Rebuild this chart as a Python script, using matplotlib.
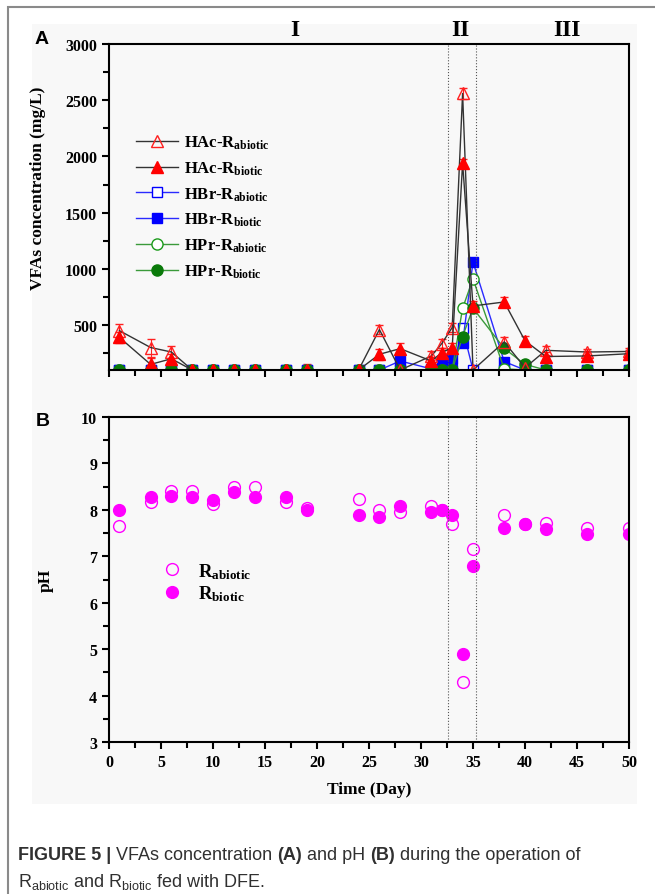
import numpy as np
import matplotlib
matplotlib.use('Agg')
import matplotlib.pyplot as plt
from matplotlib.patches import Rectangle
from matplotlib.ticker import MultipleLocator

plt.rcParams['font.family'] = 'Liberation Serif'
plt.rcParams['font.weight'] = 'bold'

# ---- data ----
days = [1, 4, 6, 8, 10, 12, 14, 17, 19, 24, 26, 28, 31, 32, 33, 34, 35, 38, 40, 42, 46, 50]

# VFAs (mg/L); 100 = lower edge of the axis
hac_abiotic = [450, 300, 260, 100, 100, 100, 100, 100, 100, 100, 460, 100, 225, 335, 478, 2560, 100, 350, 120, 275, 260, 265]
hac_biotic = [390, 150, 200, 100, 100, 100, 100, 100, 100, 100, 240, 290, 180, 255, 300, 1940, 670, 705, 360, 220, 225, 245]
hbr_abiotic = [100, 100, 100, 100, 100, 100, 100, 100, 100, 100, 100, 100, 100, 100, 100, 470, 100, 100, 100, 100, 100, 100]
hbr_biotic = [100, 100, 100, 100, 100, 100, 100, 100, 100, 100, 100, 180, 110, 160, 195, 340, 1060, 175, 100, 100, 100, 100]
hpr_abiotic = [100, 100, 100, 100, 100, 100, 100, 100, 100, 100, 100, 100, 100, 100, 100, 650, 910, 110, 100, 100, 100, 100]
hpr_biotic = [100, 100, 100, 100, 100, 100, 100, 100, 100, 100, 100, 100, 100, 100, 100, 398, 650, 292, 150, 100, 100, 100]

hac_abiotic_err = [60, 80, 50, 40, 40, 40, 40, 40, 50, 30, 40, 30, 40, 40, 40, 50, 30, 40, 30, 40, 30, 30]
hac_biotic_err = [50, 60, 40, 30, 30, 30, 30, 30, 30, 30, 50, 50, 40, 40, 40, 40, 40, 40, 40, 40, 40, 30]

# pH
ph_abiotic = [7.65, 8.16, 8.40, 8.40, 8.13, 8.50, 8.50, 8.16, 8.05, 8.23, 8.00, 7.95, 8.08, 8.00, 7.70, 4.29, 7.16, 7.89, 7.70, 7.72, 7.60, 7.60]
ph_biotic = [8.00, 8.27, 8.29, 8.28, 8.22, 8.39, 8.27, 8.28, 8.00, 7.89, 7.84, 8.08, 7.96, 8.00, 7.89, 4.90, 6.80, 7.62, 7.69, 7.59, 7.49, 7.49]

phase_bounds = [32.6, 35.3]
phase_labels = ['I', 'II', 'III']
phase_label_x = [17.9, 33.8, 44.0]


def px(x, y, w, h):
    """pixel box (top-left origin) -> figure fraction rect"""
    W, H = 655.0, 895.0
    return [x / W, 1 - (y + h) / H, w / W, h / H]


def style_axes(ax):
    for s in ax.spines.values():
        s.set_linewidth(1.5)
    ax.tick_params(which='both', direction='out', width=1.5, labelsize=11.5)
    ax.tick_params(which='major', length=5)
    ax.tick_params(which='minor', length=4)
    ax.set_facecolor('#f8f8f8')


fig = plt.figure(figsize=(6.55, 8.95), dpi=100)

# outer frame and grey panel (behind the axes)
fig.patches.append(Rectangle((8 / 655, -0.1), 1.2, (1 - 8 / 895) + 0.1, transform=fig.transFigure,
                             fill=False, ec='#8a8a8a', lw=1.5, zorder=-2))
fig.patches.append(Rectangle(px(32, 25, 605, 780)[:2], 605 / 655, 780 / 895, transform=fig.transFigure,
                             fc='#f8f8f8', ec='none', zorder=-1))

# ---------------- panel A ----------------
ax1 = fig.add_axes(px(109, 45, 520, 326))
style_axes(ax1)
lc_k, lc_b, lc_g = '#333333', '#2a2aff', '#3a9a3a'
h1 = ax1.errorbar(days, hac_abiotic, yerr=hac_abiotic_err, color=lc_k, lw=1, marker='^', ms=9, mfc='none',
                  mec='#ff2020', mew=1, ecolor='#ff2020', elinewidth=0.8, capsize=3)
h2 = ax1.errorbar(days, hac_biotic, yerr=hac_biotic_err, color=lc_k, lw=1, marker='^', ms=9, mfc='#ff0000',
                  mec='#ff0000', ecolor='#ff2020', elinewidth=0.8, capsize=3)
h3, = ax1.plot(days, hbr_abiotic, color=lc_b, lw=1, marker='s', ms=6.5, mfc='white', mec='#0000ff', mew=1)
h4, = ax1.plot(days, hbr_biotic, color=lc_b, lw=1, marker='s', ms=6.5, mfc='#0000ff', mec='#0000ff')
h5, = ax1.plot(days, hpr_abiotic, color=lc_g, lw=1, marker='o', ms=8, mfc='white', mec='#1a9a1a', mew=1)
h6, = ax1.plot(days, hpr_biotic, color=lc_g, lw=1, marker='o', ms=8, mfc='#0a7a0a', mec='#0a7a0a')
ax1.set_xlim(0, 50)
ax1.set_ylim(100, 3000)
ax1.xaxis.set_major_locator(MultipleLocator(5))
ax1.xaxis.set_minor_locator(MultipleLocator(2.5))
ax1.yaxis.set_major_locator(MultipleLocator(500))
ax1.yaxis.set_minor_locator(MultipleLocator(250))
ax1.tick_params(axis='x', labelbottom=False)
ax1.set_ylabel('VFAs concentration (mg/L)', fontsize=12.5, fontweight='bold')
ax1.yaxis.set_label_coords(-0.122, 0.56)
for b in phase_bounds:
    ax1.axvline(b, color='#555555', lw=0.8, ls=':')
for lab, xl in zip(phase_labels, phase_label_x):
    ax1.text(xl, 1.045, lab, transform=ax1.get_xaxis_transform(), ha='center', va='center',
             fontsize=17, fontweight='bold')
leg_labels = [r'HAc-R$\mathregular{_{abiotic}}$', r'HAc-R$\mathregular{_{biotic}}$',
              r'HBr-R$\mathregular{_{abiotic}}$', r'HBr-R$\mathregular{_{biotic}}$',
              r'HPr-R$\mathregular{_{abiotic}}$', r'HPr-R$\mathregular{_{biotic}}$']
leg = ax1.legend([h1[0], h2[0], h3, h4, h5, h6], leg_labels, loc='upper left', bbox_to_anchor=(0.04, 0.745),
                 frameon=False, fontsize=12, handlelength=2.5, labelspacing=0.5, handletextpad=0.35,
                 borderaxespad=0)
for t in leg.get_texts():
    t.set_fontweight('bold')

# ---------------- panel B ----------------
ax2 = fig.add_axes(px(109, 418, 520, 325))
style_axes(ax2)
p1, = ax2.plot(days, ph_abiotic, ls='none', marker='o', ms=8.5, mfc='none', mec='#ff00ff', mew=1)
p2, = ax2.plot(days, ph_biotic, ls='none', marker='o', ms=8.5, mfc='#ff00ff', mec='#ff00ff')
ax2.set_xlim(0, 50)
ax2.set_ylim(3, 10)
ax2.xaxis.set_major_locator(MultipleLocator(5))
ax2.xaxis.set_minor_locator(MultipleLocator(2.5))
ax2.yaxis.set_major_locator(MultipleLocator(1))
ax2.yaxis.set_minor_locator(MultipleLocator(0.5))
ax2.set_xlabel('Time (Day)', fontsize=12.5, fontweight='bold', labelpad=8)
ax2.set_ylabel('pH', fontsize=12.5, fontweight='bold', labelpad=20)
for b in phase_bounds:
    ax2.axvline(b, color='#555555', lw=0.8, ls=':')
leg2 = ax2.legend([p1, p2], [r'R$\mathregular{_{abiotic}}$', r'R$\mathregular{_{biotic}}$'],
                  loc='upper left', bbox_to_anchor=(0.085, 0.58), frameon=False, fontsize=13.5,
                  handlelength=1.2, labelspacing=0.15, handletextpad=0.8, borderaxespad=0)
for t in leg2.get_texts():
    t.set_fontweight('bold')

# panel letters
fig.text(42 / 655, 1 - 40 / 895, 'A', fontsize=14, fontweight='bold', family='Liberation Sans',
         ha='center', va='center')
fig.text(43 / 655, 1 - 422 / 895, 'B', fontsize=14, fontweight='bold', family='Liberation Sans',
         ha='center', va='center')

# ---------------- caption ----------------
fig.canvas.draw()
renderer = fig.canvas.get_renderer()


def caption_line(pieces, x0, y):
    x = x0
    for txt, wt in pieces:
        t = fig.text(x, y, txt, fontsize=13, fontweight=wt, family='Liberation Sans',
                     color='#303030', ha='left', va='baseline')
        bb = t.get_window_extent(renderer)
        x += bb.width / fig.bbox.width


caption_line([('FIGURE 5 | ', 'bold'), ('VFAs concentration ', 'normal'), ('(A)', 'bold'),
              (' and pH ', 'normal'), ('(B)', 'bold'), (' during the operation of', 'normal')],
             18 / 655, 1 - 860 / 895)
caption_line([(r'R$\mathregular{_{abiotic}}$ and R$\mathregular{_{biotic}}$ fed with DFE.', 'normal')],
             18 / 655, 1 - 887 / 895)

fig.savefig('out.png', dpi=100)
